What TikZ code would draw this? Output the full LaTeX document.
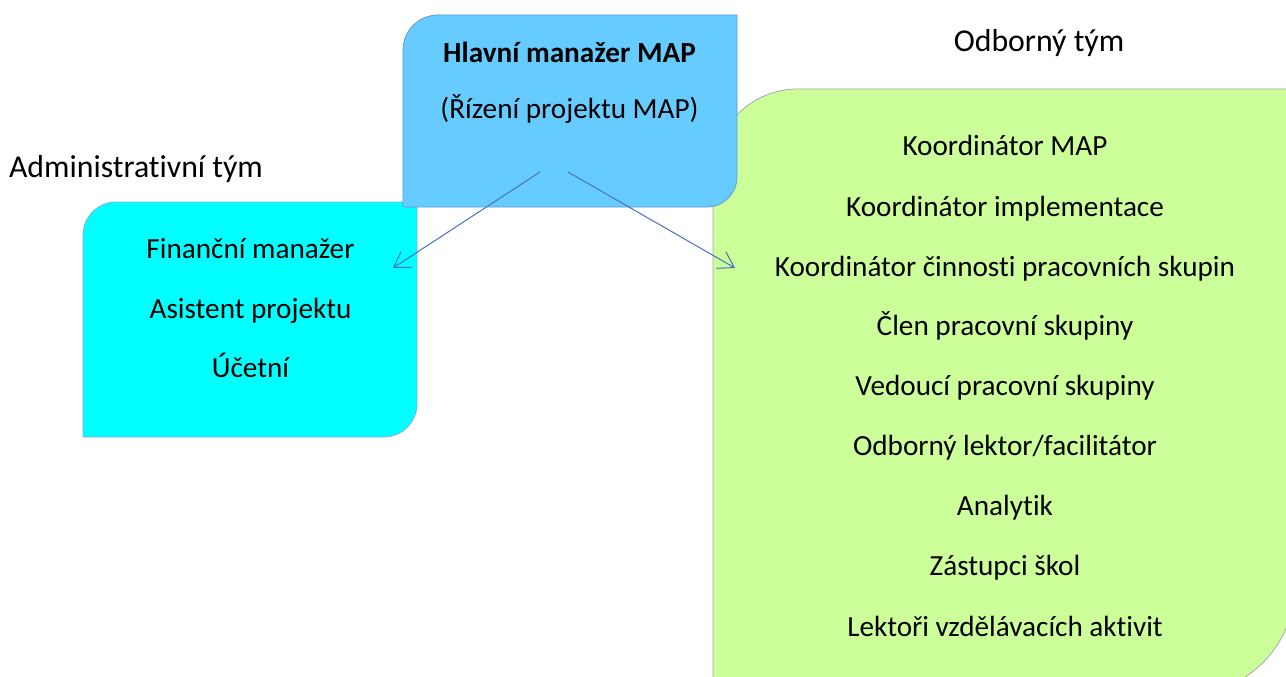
\documentclass[tikz,border=0pt]{standalone}
\usepackage{fontspec}
\setmainfont{Carlito}[RawFeature={-liga;-clig;-dlig;-calt}]
\usetikzlibrary{arrows.meta}
\definecolor{bluefill}{HTML}{66CCFF}
\definecolor{blueline}{HTML}{5B9BD5}
\definecolor{cyanfill}{HTML}{00FFFF}
\definecolor{cyanline}{HTML}{8FAADC}
\definecolor{greenfill}{HTML}{CCFF99}
\definecolor{greenline}{HTML}{A6A6A6}
\definecolor{arrowcol}{HTML}{4472C4}
\tikzset{
  txt/.style={anchor=base, inner sep=0pt, font=\fontsize{29.2}{34}\selectfont},
  txtb/.style={txt, font=\fontsize{29.2}{34}\selectfont\bfseries},
  title/.style={anchor=base, inner sep=0pt, font=\fontsize{31.8}{36}\selectfont},
  link/.style={draw=arrowcol, line width=1pt, -{Straight Barb[length=15pt,width=19pt]}},
}
\begin{document}
\begin{tikzpicture}[x=1pt,y=-1pt]
\useasboundingbox (0,0) rectangle (1286,677);
\clip (0,0) rectangle (1286,677);
% administrative team box
\draw[fill=cyanfill, draw=cyanline, line width=0.75pt]
  (83,437) -- (83,235) arc[start angle=180,end angle=270,radius=33]
  -- (417,202) -- (417,404) arc[start angle=0,end angle=90,radius=33] -- cycle;
% expert team box
\draw[fill=greenfill, draw=greenline, line width=0.75pt]
  (713,695) -- (713,174) arc[start angle=180,end angle=270,radius=85]
  -- (1295,89) -- (1295,585) arc[start angle=0,end angle=90,radius=110] -- cycle;
% main manager box
\draw[fill=bluefill, draw=blueline, line width=0.75pt]
  (403,207) -- (403,50) arc[start angle=180,end angle=270,radius=35]
  -- (737,15) -- (737,177) arc[start angle=0,end angle=90,radius=30] -- cycle;

% texts
\node[txtb] (hm) at (569.5,63) {Hlavní manažer MAP};
\node[txt] (rp) at (569.5,118) {(Řízení projektu MAP)};
\node[title] (ot) at (1039,52) {Odborný tým};
\node[title] (at) at (136,177) {Administrativní tým};

\node[txt] (a1) at (250.5,258) {Finanční manažer};
\node[txt] (a2) at (250.5,318) {Asistent projektu};
\node[txt] (a3) at (250.5,377) {Účetní};

\node[txt] (g1) at (1005,155) {Koordinátor MAP};
\node[txt] (g2) at (1005,216) {Koordinátor implementace};
\node[txt] (g3) at (1005,276) {Koordinátor činnosti pracovních skupin};
\node[txt] (g4) at (1005,335) {Člen pracovní skupiny};
\node[txt] (g5) at (1005,395) {Vedoucí pracovní skupiny};
\node[txt] (g6) at (1005,455) {Odborný lektor/facilitátor};
\node[txt] (g7) at (1005,515) {Analytik};
\node[txt] (g8) at (1005,575) {Zástupci škol};
\node[txt] (g9) at (1005,636) {Lektoři vzdělávacích aktivit};

% connectors
\coordinate (s1) at (540,172);
\coordinate (s2) at (568,172);
\coordinate (e1) at (393,268);
\coordinate (e2) at (735,268);
\draw[link] (s1) -- (e1);
\draw[link] (s2) -- (e2);
\end{tikzpicture}
\end{document}
